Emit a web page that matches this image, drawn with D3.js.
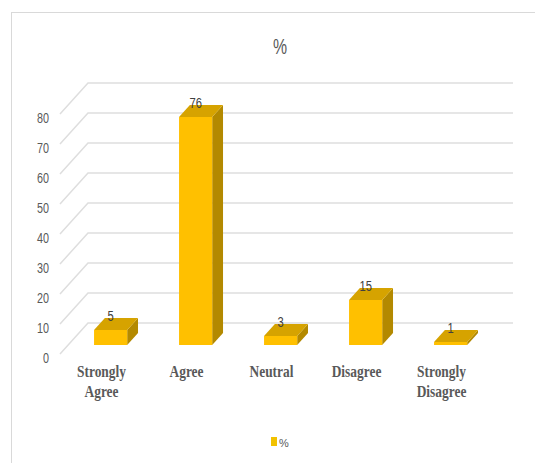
<!DOCTYPE html>
<html><head><meta charset="utf-8">
<script src="https://cdn.jsdelivr.net/npm/d3@7"></script>
<style>html,body{margin:0;padding:0;background:#fff;}svg{display:block;}</style>
</head><body>
<script>
const categories = [["Strongly","Agree"],["Agree"],["Neutral"],["Disagree"],["Strongly","Disagree"]];
const values = [5, 76, 3, 15, 1];
const ticks = [0,10,20,30,40,50,60,70,80];
const seriesName = "%";

const W = 535, H = 463;
const svg = d3.select("body").append("svg").attr("width", W).attr("height", H);

// depth projection
const DX = 28, DY = -31;
const keys = categories.map(c => c.join(" "));
const x = d3.scaleBand().domain(keys).range([60, 485]).paddingInner(0.61).paddingOuter(0.305);
const y = d3.scaleLinear().domain([0, 80]).range([354, 114]);
const P = (px, v, d) => [px + d*DX, y(v) + d*DY];

// frame
svg.append("line").attr("x1",11).attr("x2",535).attr("y1",12.5).attr("y2",12.5).attr("stroke","#d9d9d9");
svg.append("line").attr("x1",11.5).attr("x2",11.5).attr("y1",12).attr("y2",463).attr("stroke","#d9d9d9");

// title
svg.append("text").attr("transform","translate(280,54) scale(0.72,1)")
  .attr("text-anchor","middle").attr("font-family","Liberation Sans, Arial, sans-serif")
  .attr("font-size",22).attr("fill","#595959").text(seriesName);

// gridlines: back wall + side wall
const grid = svg.append("g").attr("stroke","#dedede").attr("stroke-width",1.5).attr("fill","none");
ticks.forEach(t => {
  const a = P(60, t, 0), b = P(60, t, 1), c = P(485, t, 1);
  grid.append("path").attr("d", `M${a[0]},${a[1]}L${b[0]},${b[1]}L${c[0]},${c[1]}`);
});

// tick labels
const tl = svg.append("g").attr("font-family","Liberation Sans, Arial, sans-serif").attr("font-size",15).attr("fill","#595959");
ticks.forEach(t => {
  tl.append("text").attr("transform",`translate(49,${y(t)+8.5}) scale(0.72,1)`).attr("text-anchor","end").text(t);
});

// bars
const d0 = 0.29, d1 = 0.677;
const bars = svg.append("g");
values.forEach((v, i) => {
  const xl = x(keys[i]), xr = xl + x.bandwidth();
  const fbl = P(xl, 0, d0), fbr = P(xr, 0, d0), ftl = P(xl, v, d0), ftr = P(xr, v, d0);
  const btl = P(xl, v, d1), btr = P(xr, v, d1), bbr = P(xr, 0, d1);
  const poly = pts => "M" + pts.map(p => p.join(",")).join("L") + "Z";
  bars.append("path").attr("d", poly([fbr, ftr, btr, bbr])).attr("fill","#B38900");
  bars.append("path").attr("d", poly([ftl, ftr, btr, btl])).attr("fill","#D6A300");
  bars.append("path").attr("d", poly([fbl, fbr, ftr, ftl])).attr("fill","#FFC000");
  // data label
  const cx = (xl + xr)/2 + d0*DX;
  svg.append("text").attr("transform",`translate(${cx},${ftl[1]-9}) scale(0.8,1)`)
    .attr("text-anchor","middle").attr("font-family","Liberation Sans, Arial, sans-serif")
    .attr("font-size",14).attr("fill","#404040").text(v);
});

// category labels
const cl = svg.append("g").attr("font-family","Liberation Serif, Times New Roman, serif")
  .attr("font-weight","bold").attr("font-size",17).attr("fill","#595959");
categories.forEach((lines, i) => {
  const cx = x(keys[i]) + x.bandwidth()/2 - 1;
  lines.forEach((ln, j) => {
    cl.append("text").attr("transform",`translate(${cx},${377 + j*20}) scale(0.79,1)`)
      .attr("text-anchor","middle").text(ln);
  });
});

// legend
svg.append("rect").attr("x",271).attr("y",437).attr("width",6).attr("height",9).attr("fill","#F2C200");
svg.append("text").attr("x",279).attr("y",447).attr("font-family","Liberation Sans, Arial, sans-serif")
  .attr("font-size",11).attr("fill","#595959").text(seriesName);
</script>
</body></html>
